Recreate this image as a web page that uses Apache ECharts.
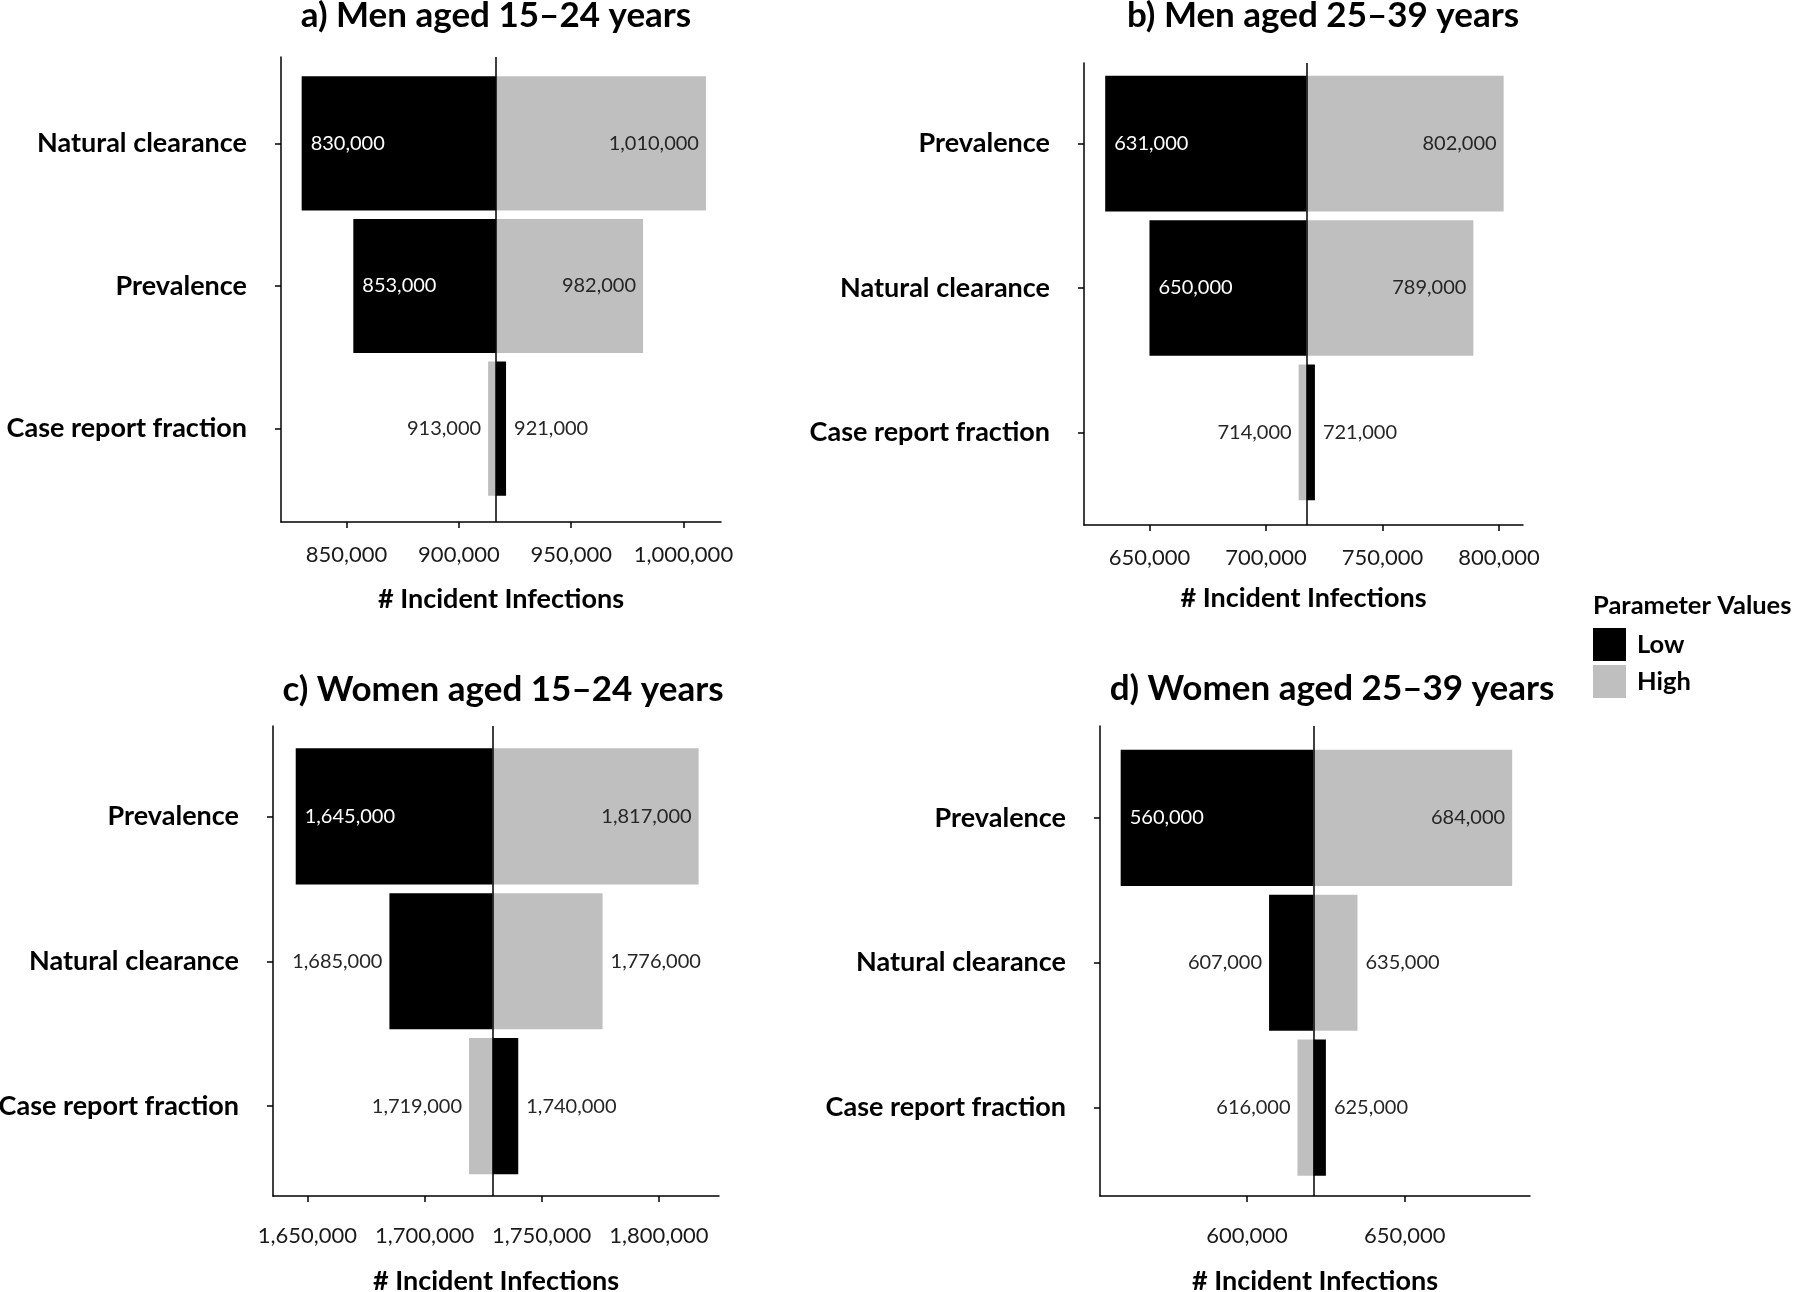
<!DOCTYPE html>
<html><head><meta charset="utf-8">
<script src="https://cdn.jsdelivr.net/npm/echarts@6/dist/echarts.min.js"></script>
<style>html,body{margin:0;padding:0;background:#fff}#c{width:1800px;height:1292px}</style>
</head><body><div id="c"></div>
<script>
// ---------------- DATA ----------------
const titles = ['a) Men aged 15\u201324 years','b) Men aged 25\u201339 years','c) Women aged 15\u201324 years','d) Women aged 25\u201339 years'];
const categoriesA = ['Natural clearance','Prevalence','Case report fraction'];
const lowA  = [830000, 853000, 921000];
const highA = [1010000, 982000, 913000];
const baseA = 916500;
const ticksA = [850000, 900000, 950000, 1000000];

const categoriesB = ['Prevalence','Natural clearance','Case report fraction'];
const lowB  = [631000, 650000, 721000];
const highB = [802000, 789000, 714000];
const baseB = 717400;
const ticksB = [650000, 700000, 750000, 800000];

const categoriesC = ['Prevalence','Natural clearance','Case report fraction'];
const lowC  = [1645000, 1685000, 1740000];
const highC = [1817000, 1776000, 1719000];
const baseC = 1729000;
const ticksC = [1650000, 1700000, 1750000, 1800000];

const categoriesD = ['Prevalence','Natural clearance','Case report fraction'];
const lowD  = [560000, 607000, 625000];
const highD = [684000, 635000, 616000];
const baseD = 621000;
const ticksD = [600000, 650000];

const axisName = '# Incident Infections';
const legendTitle = 'Parameter Values';
const seriesNames = ['Low','High'];

// ---------------- LAYOUT / STYLE ----------------
const FONT = 'Lato';
const panels = [
  {cats:categoriesA, low:lowA, high:highA, base:baseA, ticks:ticksA,
   left:281, width:440, fTop:57, fH:465, bTop:72, bH:428, min:820800, max:1016700, lm:22, ng:64, tx:496, ty:-2},
  {cats:categoriesB, low:lowB, high:highB, base:baseB, ticks:ticksB,
   left:1084, width:439, fTop:63, fH:462, bTop:71.5, bH:433, min:621900, max:810300, lm:22, ng:60, tx:1323, ty:-2},
  {cats:categoriesC, low:lowC, high:highC, base:baseC, ticks:ticksC,
   left:273, width:446, fTop:726, fH:470, bTop:744, bH:434.5, min:1635300, max:1825700, lm:29, ng:72, tx:503, ty:672},
  {cats:categoriesD, low:lowD, high:highD, base:baseD, ticks:ticksD,
   left:1100, width:430, fTop:726, fH:470, bTop:745.5, bH:434.5, min:553450, max:689650, lm:29, ng:72, tx:1332, ty:671}
];
const colors = {Low:'#000000', High:'#bfbfbf'};
const fmt = v => Number(v).toLocaleString('en-US');

const mctx = document.createElement('canvas').getContext('2d');
const labelFont = '20px ' + FONT;
mctx.font = labelFont;

function makeRender(base, color, insideColor) {
  return function (params, api) {
    const v = api.value(0), c = api.value(1);
    const p0 = api.coord([base, c]);
    const p1 = api.coord([v, c]);
    const h = api.size([0, 1])[1] * 0.94;
    const x0 = Math.min(p0[0], p1[0]);
    const w = Math.abs(p1[0] - p0[0]);
    const txt = fmt(v);
    const tw = mctx.measureText(txt).width;
    const inside = w > tw + 30;
    const right = p1[0] > p0[0];
    let tx, align, fill;
    if (inside) {
      fill = insideColor;
      if (right) { tx = p1[0] - 7; align = 'right'; } else { tx = p1[0] + 9; align = 'left'; }
    } else {
      fill = '#262626';
      if (right) { tx = p1[0] + 8; align = 'left'; } else { tx = p1[0] - 7; align = 'right'; }
    }
    return {
      type: 'group',
      children: [
        {type:'rect', shape:{x:x0, y:p0[1]-h/2, width:w, height:h}, style:{fill:color}},
        {type:'text', z2: 10, style:{text:txt, x:tx, y:p0[1], align:align, verticalAlign:'middle', fill:fill, font:labelFont}}
      ]
    };
  };
}

const grid = [], xAxis = [], yAxis = [], series = [], title = [];
panels.forEach((p, i) => {
  const gBar = i * 2, gFrame = i * 2 + 1;
  grid.push({left:p.left, top:p.bTop, width:p.width, height:p.bH, containLabel:false, outerBoundsMode:'none'});
  grid.push({left:p.left, top:p.fTop, width:p.width, height:p.fH, containLabel:false, outerBoundsMode:'none'});
  xAxis.push({type:'value', gridIndex:gBar, min:p.min, max:p.max, show:false});
  yAxis.push({type:'category', gridIndex:gBar, data:p.cats, inverse:true,
    axisLine:{show:false},
    axisTick:{show:true, alignWithLabel:true, length:6, lineStyle:{color:'#000', width:1.5}},
    axisLabel:{margin:34, fontFamily:FONT, fontWeight:'bold', fontSize:27, color:'#000'},
    splitLine:{show:false}});
  xAxis.push({type:'value', gridIndex:gFrame, min:p.min, max:p.max,
    name:axisName, nameLocation:'middle', nameGap:p.ng,
    nameTextStyle:{fontFamily:FONT, fontWeight:'bold', fontSize:27, color:'#000'},
    axisLine:{show:true, lineStyle:{color:'#000', width:1.5}},
    axisTick:{show:true, length:6, customValues:p.ticks, lineStyle:{color:'#000', width:1.5}},
    axisLabel:{show:true, customValues:p.ticks, margin:p.lm, formatter:fmt, fontFamily:FONT, fontSize:22, color:'#1a1a1a'},
    splitLine:{show:false}});
  yAxis.push({type:'value', gridIndex:gFrame, min:0, max:1,
    axisLine:{show:true, lineStyle:{color:'#000', width:1.5}},
    axisTick:{show:false}, axisLabel:{show:false}, splitLine:{show:false}});

  series.push({type:'custom', name:'Low', xAxisIndex:gBar, yAxisIndex:gBar,
    itemStyle:{color:colors.Low}, encode:{x:0, y:1},
    data:p.low.map((v, k) => [v, k]),
    renderItem:makeRender(p.base, colors.Low, '#ffffff')});
  series.push({type:'custom', name:'High', xAxisIndex:gBar, yAxisIndex:gBar,
    itemStyle:{color:colors.High}, encode:{x:0, y:1},
    data:p.high.map((v, k) => [v, k]),
    renderItem:makeRender(p.base, colors.High, '#262626')});
  series.push({type:'line', name:'baseline', xAxisIndex:gFrame, yAxisIndex:gFrame, data:[], z:5,
    markLine:{silent:true, symbol:['none','none'], label:{show:false}, z:5,
      lineStyle:{color:'#000', width:1.5, type:'solid'},
      emphasis:{disabled:true},
      data:[{xAxis:p.base}]}});
  title.push({text:titles[i], left:p.tx, top:p.ty, textAlign:'center', padding:0,
    textStyle:{fontFamily:FONT, fontWeight:'bold', fontSize:35, color:'#000'}});
});
title.push({text:legendTitle, left:1593, top:593, padding:0,
  textStyle:{fontFamily:FONT, fontWeight:'bold', fontSize:25.5, color:'#000'}});

const chart = echarts.init(document.getElementById('c'), null, {renderer:'canvas'});
chart.setOption({
  animation:false,
  backgroundColor:'#ffffff',
  title:title,
  legend:{data:seriesNames, orient:'vertical', left:1593, top:628, itemWidth:33, itemHeight:33, itemGap:4,
    icon:'rect', selectedMode:false, padding:0,
    textStyle:{fontFamily:FONT, fontWeight:'bold', fontSize:25.5, color:'#000', padding:[0,0,0,6]}},
  grid:grid, xAxis:xAxis, yAxis:yAxis, series:series
});
</script></body></html>
